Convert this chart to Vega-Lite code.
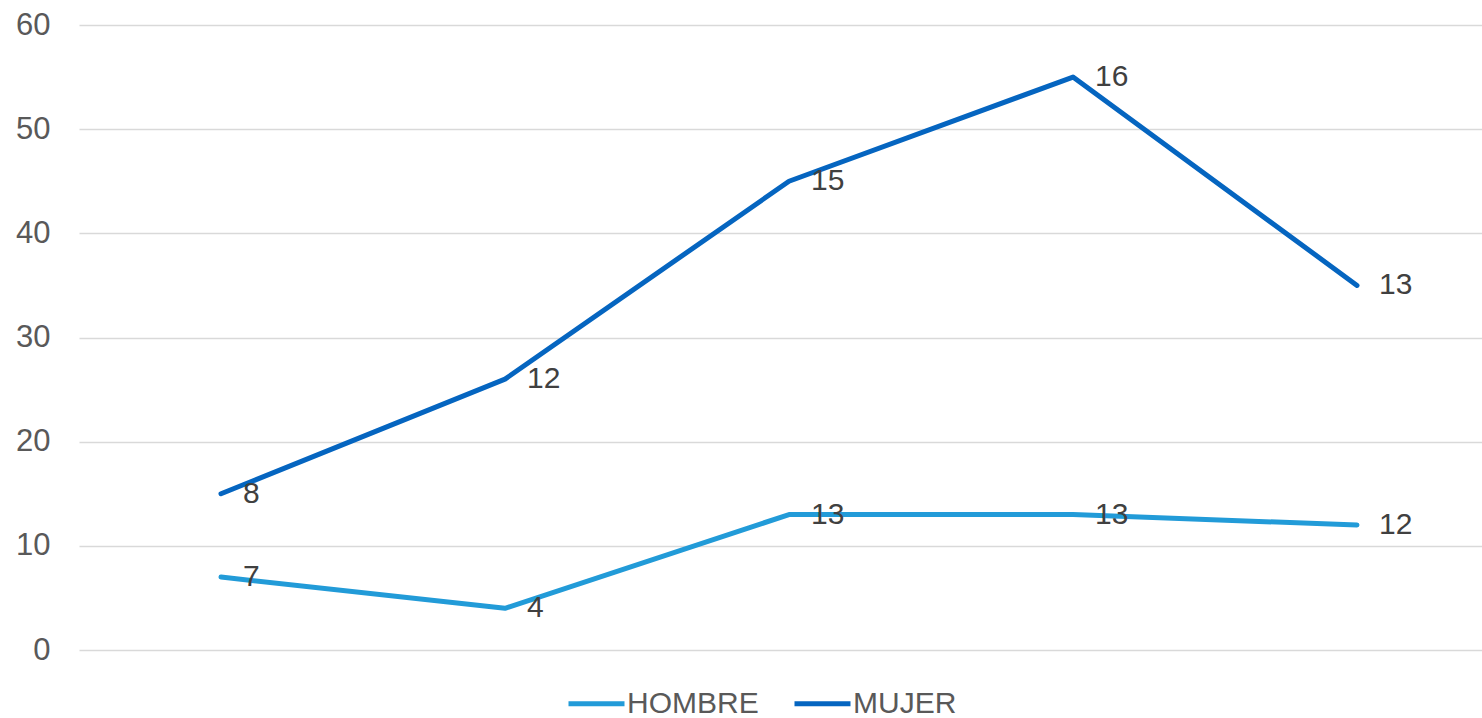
{
  "$schema": "https://vega.github.io/schema/vega-lite/v6.json",
  "autosize": {"type": "none"},
  "width": 1420,
  "height": 625,
  "padding": {"left": 79, "top": 25, "right": 0, "bottom": 68},
  "background": "white",
  "config": {"view": {"stroke": null}, "font": "Liberation Sans"},
  "data": {
    "values": [
      {"cat": "1", "serie": "HOMBRE", "valor": 7, "etiqueta": 7},
      {"cat": "2", "serie": "HOMBRE", "valor": 4, "etiqueta": 4},
      {"cat": "3", "serie": "HOMBRE", "valor": 13, "etiqueta": 13},
      {"cat": "4", "serie": "HOMBRE", "valor": 13, "etiqueta": 13},
      {"cat": "5", "serie": "HOMBRE", "valor": 12, "etiqueta": 12},
      {"cat": "1", "serie": "MUJER", "valor": 15, "etiqueta": 8},
      {"cat": "2", "serie": "MUJER", "valor": 26, "etiqueta": 12},
      {"cat": "3", "serie": "MUJER", "valor": 45, "etiqueta": 15},
      {"cat": "4", "serie": "MUJER", "valor": 55, "etiqueta": 16},
      {"cat": "5", "serie": "MUJER", "valor": 35, "etiqueta": 13}
    ]
  },
  "encoding": {
    "x": {"field": "cat", "type": "ordinal", "sort": null, "scale": {"type": "point", "padding": 0.5}, "axis": null},
    "y": {
      "field": "valor",
      "type": "quantitative",
      "scale": {"domain": [0, 60], "nice": false},
      "axis": {
        "values": [0, 10, 20, 30, 40, 50, 60],
        "grid": true,
        "gridColor": "#d9d9d9",
        "gridWidth": 1.5,
        "domain": false,
        "ticks": false,
        "labelFontSize": 31,
        "labelColor": "#595959",
        "labelPadding": 29,
        "title": null
      }
    }
  },
  "layer": [
    {
      "mark": {"type": "line", "strokeWidth": 5, "strokeCap": "round", "strokeJoin": "round"},
      "encoding": {
        "color": {
          "field": "serie",
          "type": "nominal",
          "scale": {"domain": ["HOMBRE", "MUJER"], "range": ["#229BD8", "#0565C0"]},
          "legend": {
            "orient": "none",
            "legendX": 487,
            "legendY": 648,
            "direction": "horizontal",
            "title": null,
            "symbolType": "stroke",
            "symbolSize": 3136,
            "symbolStrokeWidth": 5,
            "labelFontSize": 30,
            "labelColor": "#595959",
            "labelOffset": 0,
            "columnPadding": 25
          }
        }
      }
    },
    {
      "mark": {"type": "text", "align": "left", "baseline": "middle", "dx": 22, "fontSize": 30, "color": "#404040"},
      "encoding": {"text": {"field": "etiqueta", "type": "quantitative"}, "detail": {"field": "serie"}}
    }
  ]
}
